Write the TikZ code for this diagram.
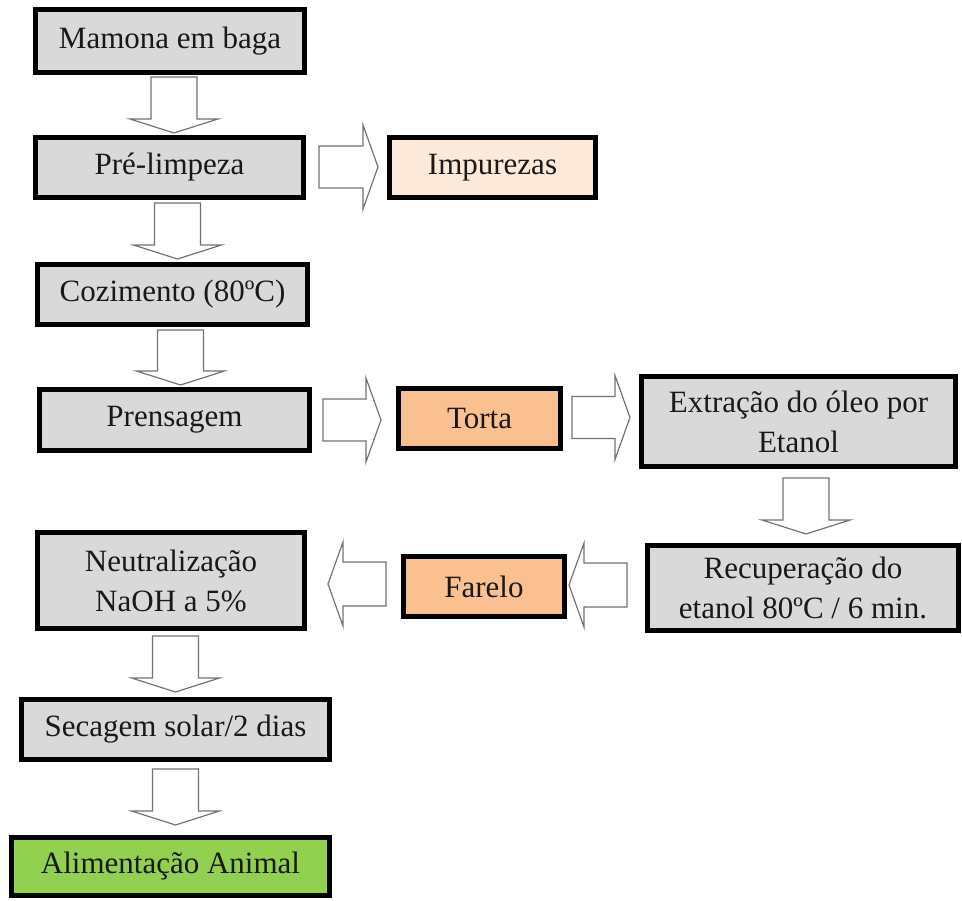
\documentclass[tikz,border=0pt]{standalone}
\usepackage{fontspec}
\setmainfont{Liberation Serif}
\usetikzlibrary{calc}
\definecolor{boxgray}{HTML}{D9D9D9}
\definecolor{lightpeach}{HTML}{FDE9D9}
\definecolor{peach}{HTML}{FAC090}
\definecolor{leaf}{HTML}{92D050}
\tikzset{
  box/.style={draw=black, line width=5pt, fill=boxgray, align=center, inner sep=0pt,
    font=\fontsize{31}{40}\selectfont, text=black!90},
  blk/.style={draw=black!55, line width=1.2pt, fill=white, line join=miter},
}
% vertical block arrow: from, to, x-centre, gap at start, gap at tip
\newcommand\varr[5]{\draw[blk] let \p1=(#1.south), \p2=(#2.north) in
  ({#3pt-23pt},{\y1-#4pt}) -- ({#3pt+23pt},{\y1-#4pt}) -- ({#3pt+23pt},{\y2+#5pt+14pt})
  -- ({#3pt+44pt},{\y2+#5pt+14pt}) -- ({#3pt},{\y2+#5pt}) -- ({#3pt-44pt},{\y2+#5pt+14pt})
  -- ({#3pt-23pt},{\y2+#5pt+14pt}) -- cycle;}
% right block arrow: from, to, y (downwards), gap at start, gap at tip
\newcommand\rarr[5]{\draw[blk] let \p1=(#1.east), \p2=(#2.west) in
  ({\x1+#4pt},{-#3pt+21pt}) -- ({\x2-#5pt-15pt},{-#3pt+21pt}) -- ({\x2-#5pt-15pt},{-#3pt+42pt})
  -- ({\x2-#5pt},{-#3pt}) -- ({\x2-#5pt-15pt},{-#3pt-42pt}) -- ({\x2-#5pt-15pt},{-#3pt-21pt})
  -- ({\x1+#4pt},{-#3pt-21pt}) -- cycle;}
% left block arrow
\newcommand\larr[5]{\draw[blk] let \p1=(#1.west), \p2=(#2.east) in
  ({\x1-#4pt},{-#3pt+22pt}) -- ({\x2+#5pt+15pt},{-#3pt+22pt}) -- ({\x2+#5pt+15pt},{-#3pt+42pt})
  -- ({\x2+#5pt},{-#3pt}) -- ({\x2+#5pt+15pt},{-#3pt-42pt}) -- ({\x2+#5pt+15pt},{-#3pt-22pt})
  -- ({\x1-#4pt},{-#3pt-22pt}) -- cycle;}
\begin{document}
\begin{tikzpicture}[x=1pt,y=1pt]
\useasboundingbox (0,0) rectangle (962,-901);
\node[box, minimum width=269pt, minimum height=63pt] (mam) at (170,-41) {Mamona em baga};
\node[box, minimum width=268pt, minimum height=60pt] (pre) at (169.5,-167.5) {Pré-limpeza};
\node[box, fill=lightpeach, minimum width=206pt, minimum height=60pt] (imp) at (492.5,-167.5) {Impurezas};
\node[box, minimum width=270pt, minimum height=60pt] (coz) at (172.5,-294.5) {Cozimento (80ºC)};
\node[box, minimum width=270pt, minimum height=61pt] (pren) at (174.5,-420) {Prensagem};
\node[box, fill=peach, minimum width=162pt, minimum height=60pt] (torta) at (479.5,-418.5) {Torta};
\node[box, minimum width=314pt, minimum height=90pt] (extr) at (798.5,-421.5) {Extração do óleo por\\Etanol};
\node[box, minimum width=311pt, minimum height=85pt] (rec) at (803,-588) {Recuperação do\\etanol 80ºC / 6 min.};
\node[box, fill=peach, minimum width=161pt, minimum height=60pt] (far) at (484,-586.5) {Farelo};
\node[box, minimum width=267pt, minimum height=96pt] (neut) at (171,-580.5) {Neutralização\\NaOH a 5\%};
\node[box, minimum width=308pt, minimum height=60pt] (sec) at (175.5,-729.5) {Secagem solar/2 dias};
\node[box, fill=leaf, minimum width=318pt, minimum height=58pt] (ali) at (170.5,-866.5) {Alimentação Animal};

\varr{mam}{pre}{174}{2}{2}
\varr{pre}{coz}{177.5}{3}{3}
\varr{coz}{pren}{180.5}{3}{2}
\varr{extr}{rec}{806}{9}{9}
\varr{neut}{sec}{175.5}{5}{5}
\varr{sec}{ali}{175.5}{7}{10}
\rarr{pre}{imp}{167}{13}{9}
\rarr{pren}{torta}{420}{11}{15}
\rarr{torta}{extr}{417.5}{9}{9}
\larr{rec}{far}{585}{18}{2}
\larr{far}{neut}{584}{15}{21}
\end{tikzpicture}
\end{document}
